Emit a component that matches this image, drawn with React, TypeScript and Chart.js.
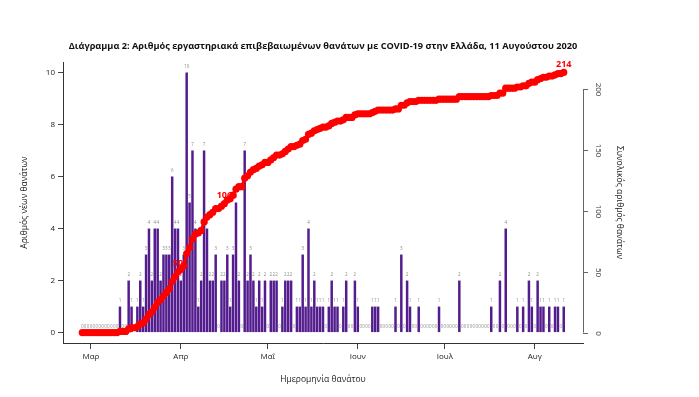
import { useEffect, useRef } from 'react';
import { Chart, registerables } from 'chart.js';

Chart.register(...registerables);

// ---- data ----
const startDate = '2020-02-27';
const dailyDeaths = [
  0, 0, 0, 0, 0, 0, 0, 0, 0, 0,
  0, 0, 0, 1, 0, 0, 2, 1, 0, 1,
  2, 1, 3, 4, 2, 4, 4, 2, 3, 3,
  3, 6, 4, 4, 2, 3, 10, 5, 7, 4,
  1, 2, 7, 4, 2, 2, 3, 0, 2, 2,
  3, 1, 3, 5, 2, 0, 7, 2, 3, 2,
  1, 2, 1, 2, 0, 2, 2, 2, 0, 1,
  2, 2, 2, 0, 1, 1, 3, 1, 4, 1,
  2, 1, 1, 1, 0, 1, 2, 1, 1, 0,
  1, 2, 0, 0, 2, 1, 0, 0, 0, 0,
  1, 1, 1, 0, 0, 0, 0, 0, 1, 0,
  3, 0, 2, 1, 0, 0, 1, 0, 0, 0,
  0, 0, 0, 1, 0, 0, 0, 0, 0, 0,
  2, 0, 0, 0, 0, 0, 0, 0, 0, 0,
  0, 1, 0, 0, 2, 0, 4, 0, 0, 0,
  1, 0, 1, 0, 2, 1, 0, 2, 1, 1,
  0, 1, 0, 1, 1, 0, 1,
];
const monthLabels = ['Μαρ', 'Απρ', 'Μαΐ', 'Ιουν', 'Ιουλ', 'Αυγ'];
const labeledTotals = [50, 106, 214];
const leftTicks = [0, 2, 4, 6, 8, 10];
const rightTicks = [0, 50, 100, 150, 200];
const titleText =
  'Διάγραμμα 2: Αριθμός εργαστηριακά επιβεβαιωμένων θανάτων με COVID-19 στην Ελλάδα, 11 Αυγούστου 2020';
const xTitle = 'Ημερομηνία θανάτου';
const yLeftTitle = 'Αριθμός νέων θανάτων';
const yRightTitle = 'Συνολικός αριθμός θανάτων';

// ---- derived ----
const cumulative: number[] = [];
dailyDeaths.reduce((s, v) => {
  const t = s + v;
  cumulative.push(t);
  return t;
}, 0);

const start = new Date(startDate + 'T00:00:00Z');
const dayOfMonth = dailyDeaths.map((_, i) => {
  const d = new Date(start.getTime() + i * 86400000);
  return d.getUTCDate();
});
const monthStartIdx = dayOfMonth
  .map((d, i) => (d === 1 ? i : -1))
  .filter((i) => i >= 0);

const FONT = '"Open Sans", "Noto Sans", sans-serif';

export default function App() {
  const ref = useRef<HTMLCanvasElement | null>(null);

  useEffect(() => {
    if (!ref.current) return;
    const n = dailyDeaths.length;
    const xPad = 0.04 * (n - 1);
    const maxLeft = Math.max(...leftTicks);
    const maxTotal = cumulative[cumulative.length - 1];

    const overlay = {
      id: 'overlay',
      afterDatasetDraw(chart: any, args: any) {
        if (args.index !== 1) return;
        const ctx = chart.ctx;
        const meta = chart.getDatasetMeta(1);
        ctx.save();
        ctx.font = '4.5px ' + FONT;
        ctx.fillStyle = '#8a8a8a';
        ctx.textAlign = 'center';
        ctx.textBaseline = 'middle';
        meta.data.forEach((el: any, k: number) => {
          ctx.fillText(String(dailyDeaths[k]), el.x, el.y - 6);
        });
        ctx.restore();
      },
      afterDraw(chart: any) {
        const ctx = chart.ctx;
        const area = chart.chartArea;
        ctx.save();
        // title
        ctx.font = 'bold 9.2px ' + FONT;
        ctx.fillStyle = '#111';
        ctx.textAlign = 'center';
        ctx.textBaseline = 'middle';
        ctx.fillText(titleText, (area.left + area.right) / 2, 46);

        // right axis
        const y1 = chart.scales.y1;
        const xr = area.right;
        ctx.strokeStyle = '#666';
        ctx.lineWidth = 1;
        ctx.beginPath();
        ctx.moveTo(xr + 0.5, y1.getPixelForValue(rightTicks[0]));
        ctx.lineTo(xr + 0.5, y1.getPixelForValue(rightTicks[rightTicks.length - 1]));
        ctx.stroke();
        ctx.font = '8px ' + FONT;
        ctx.fillStyle = '#333';
        rightTicks.forEach((v) => {
          const y = Math.round(y1.getPixelForValue(v)) + 0.5;
          ctx.beginPath();
          ctx.moveTo(xr, y);
          ctx.lineTo(xr + 5, y);
          ctx.stroke();
          ctx.save();
          ctx.translate(xr + 15, y);
          ctx.rotate(Math.PI / 2);
          ctx.textAlign = 'center';
          ctx.textBaseline = 'middle';
          ctx.fillText(String(v), 0, 0);
          ctx.restore();
        });

        // cumulative labels
        const lineMeta = chart.getDatasetMeta(0);
        ctx.font = 'bold 9px ' + FONT;
        ctx.fillStyle = '#ff0000';
        ctx.textAlign = 'center';
        ctx.textBaseline = 'middle';
        labeledTotals.forEach((t) => {
          const k = cumulative.indexOf(t);
          if (k < 0) return;
          const el = lineMeta.data[k];
          ctx.fillText(String(t), el.x, el.y - 8);
        });
        ctx.restore();
      },
    };

    const chart = new Chart(ref.current, {
      type: 'bar',
      data: {
        datasets: [
          {
            type: 'line',
            label: 'cum',
            data: cumulative.map((v, i) => ({ x: i, y: v })),
            yAxisID: 'y1',
            borderColor: '#ff0000',
            borderWidth: 3,
            pointRadius: 3.6,
            pointBackgroundColor: '#ff0000',
            pointBorderWidth: 0,
            order: 0,
          } as any,
          {
            type: 'bar',
            label: 'daily',
            data: dailyDeaths.map((v, i) => ({ x: i, y: v })),
            yAxisID: 'y',
            backgroundColor: '#541d8e',
            borderWidth: 0,
            barPercentage: 0.86,
            categoryPercentage: 1,
            order: 1,
          } as any,
        ],
      },
      options: {
        animation: false,
        responsive: false,
        maintainAspectRatio: false,
        devicePixelRatio: 1,
        layout: { padding: { top: 62, left: 0, right: 0, bottom: 0 } },
        plugins: {
          legend: { display: false },
          tooltip: { enabled: false },
          title: { display: false },
        },
        scales: {
          x: {
            type: 'linear',
            min: -xPad,
            max: n - 1 + xPad,
            offset: false,
            afterBuildTicks: (s: any) => {
              s.ticks = monthStartIdx.map((v) => ({ value: v }));
            },
            afterFit: (s: any) => {
              s.height = 54;
            },
            grid: {
              display: true,
              offset: false,
              drawOnChartArea: false,
              drawTicks: true,
              tickLength: 6,
              color: '#444',
            },
            border: { display: true, color: '#333', width: 1 },
            ticks: {
              autoSkip: false,
              maxRotation: 0,
              minRotation: 0,
              padding: 3,
              color: '#222',
              font: { family: FONT, size: 8 },
              callback: (v: any) => {
                const k = monthStartIdx.indexOf(Number(v));
                return k >= 0 ? monthLabels[k] : '';
              },
            },
            title: {
              display: true,
              text: xTitle,
              color: '#222',
              font: { family: FONT, size: 8.5 },
              padding: { top: 0, bottom: 12.5 },
            },
          },
          y: {
            type: 'linear',
            position: 'left',
            min: -0.04 * maxLeft,
            max: maxLeft * 1.04,
            afterBuildTicks: (s: any) => {
              s.ticks = leftTicks.map((v) => ({ value: v }));
            },
            afterFit: (s: any) => {
              s.width = 63;
            },
            grid: {
              display: true,
              offset: false,
              drawOnChartArea: false,
              drawTicks: true,
              tickLength: 5,
              color: '#444',
            },
            border: { display: true, color: '#333', width: 1 },
            ticks: {
              padding: 3,
              color: '#222',
              font: { family: FONT, size: 8 },
            },
            title: {
              display: true,
              text: yLeftTitle,
              color: '#222',
              font: { family: FONT, size: 8.5 },
              padding: { top: 19.5, bottom: 0 },
            },
          },
          y1: {
            type: 'linear',
            position: 'right',
            min: -0.04 * maxTotal,
            max: maxTotal * 1.04,
            afterFit: (s: any) => {
              s.width = 116;
            },
            grid: { display: false, drawOnChartArea: false },
            border: { display: false },
            ticks: { display: false },
            title: {
              display: true,
              text: yRightTitle,
              color: '#222',
              font: { family: FONT, size: 8.5 },
              padding: { top: 74.5, bottom: 0 },
            },
          },
        },
      } as any,
      plugins: [overlay],
    });

    return () => chart.destroy();
  }, []);

  return (
    <div style={{ position: 'fixed', left: 0, top: 0, width: 699, height: 397, background: '#fff' }}>
      <canvas ref={ref} width={699} height={397} style={{ display: 'block' }} />
    </div>
  );
}
